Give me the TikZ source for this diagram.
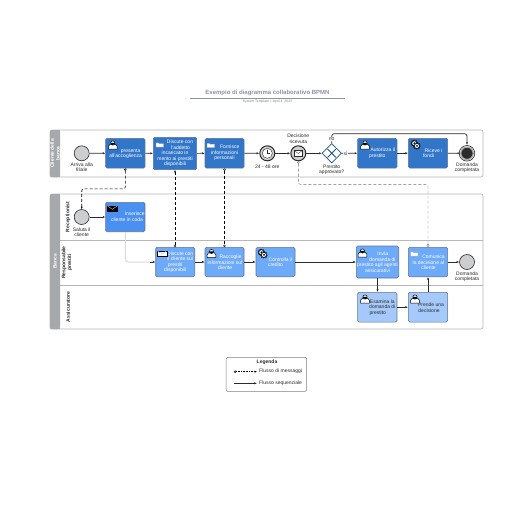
\documentclass[tikz,border=0pt]{standalone}
\usepackage{fontspec}
\setmainfont{Liberation Sans}
\usetikzlibrary{arrows.meta,calc,shapes.geometric}
\definecolor{tdark}{HTML}{3176C8}
\definecolor{tone}{HTML}{4A90F0}
\definecolor{tmid}{HTML}{6EAAFA}
\definecolor{tlight}{HTML}{A5C9FA}
\definecolor{bord}{HTML}{5F7590}
\definecolor{lineg}{HTML}{B8B8B8}
\definecolor{headg}{HTML}{A6A8AB}
\definecolor{evg}{HTML}{CDCED0}
\definecolor{inkc}{HTML}{2B2B2B}
\definecolor{titlec}{HTML}{8C93A3}
\tikzset{
 every node/.style={font=\fontsize{5}{5.5}\selectfont,text=inkc,align=center,inner sep=0pt},
 taskbox/.style={draw=bord,line width=.6pt,rounded corners=1.4pt},
 ev/.style={circle,draw=inkc,fill=evg,minimum size=15pt,line width=.6pt},
 seq/.style={draw=inkc,line width=.7pt,-{Latex[length=2.6pt,width=2.2pt]}},
 seqg/.style={draw=black!15,line width=1pt,rounded corners=3pt},
 cstart/.style={{Circle[open,fill=white,line width=.4pt,length=2.4pt,width=2.4pt]}-{Latex[open,fill=white,line width=.4pt,length=2.4pt,width=2.2pt]}},
 cboth/.style={{Circle[open,fill=white,line width=.4pt,length=2.4pt,width=2.4pt]}-{Circle[open,fill=white,line width=.4pt,length=2.4pt,width=2.4pt]}},
 cdiam/.style={{Circle[open,fill=white,line width=.4pt,length=2.4pt,width=2.4pt]}-{Diamond[open,fill=white,line width=.4pt,length=3.4pt,width=2.8pt]}},
 msg/.style={draw=black,line width=.6pt,densely dashed,rounded corners=2pt},
 msgg/.style={draw=black!55,line width=.4pt,densely dashed,rounded corners=2pt},
 lanebox/.style={draw=lineg,line width=.7pt},
 rot/.style={rotate=90,font=\fontsize{5}{5.8}\selectfont\bfseries},
 poolt/.style={rotate=90,font=\fontsize{4.9}{5.7}\selectfont\bfseries,text=white},
}
\newcommand{\tasknode}[9]{%
 \node[taskbox,fill=#6,minimum width=#4pt,minimum height=#5pt] (#1) at (#2,#3) {};
 \node[text=#7] (#1t) at ($(#1.center)+(#8,#9)$)}
\newcommand{\iconuser}[2]{%
 \begin{scope}[shift={(#1,#2)},scale=1.25]
 \fill[white,draw=black,line width=.5pt] (-3.5,3.2) -- (-3.5,1) .. controls (-3.5,-.6) and (-1.5,-.8) .. (0,-.8) .. controls (1.5,-.8) and (3.5,-.6) .. (3.5,1) -- (3.5,3.2) -- cycle;
 \fill[white,draw=black,line width=.5pt] (0,-1.6) circle (1.7);
 \fill[black] (-1.7,-1.8) arc (180:0:1.7) -- cycle;
 \end{scope}}
\newcommand{\iconfold}[2]{%
 \begin{scope}[shift={(#1,#2)}]
 \fill[white,draw=black!40,line width=.3pt] (-4,2.5) -- (-4,-1.6) -- (-1.5,-1.6) -- (-.8,-.8) -- (3.5,-.8) -- (3.5,2.5) -- cycle;
 \end{scope}}
\newcommand{\iconmail}[3]{%
 \begin{scope}[shift={(#1,#2)}]
 \fill[#3,draw=black,line width=.4pt] (-4.8,-2.8) rectangle (4.8,2.8);
 \draw[draw=white!50!gray,line width=.4pt] (-4.5,-2.5) -- (0,.6) -- (4.5,-2.5);
 \end{scope}}
\newcommand{\icongear}[2]{%
 \begin{scope}[shift={(#1,#2)}]
 \foreach \p in {(-1.2,-1.2),(1.4,1.4)}{
 \draw[draw=black,line width=1pt,dash pattern=on .9pt off .7pt] \p circle (3.1);
 \fill[white,draw=black,line width=.5pt] \p circle (2.5);
 \fill[black] \p circle (1);}
 \end{scope}}
\begin{document}
\begin{tikzpicture}[x=1pt,y=-1pt]
\useasboundingbox (0,0) rectangle (516,516);
\fill[white] (0,0) rectangle (516,516);
\node[font=\fontsize{6}{7}\selectfont\bfseries,text=titlec] (title) at (267.5,93) {Esempio di diagramma collaborativo BPMN};
\coordinate (tl) at (190,98.5); \coordinate (tr) at (345,98.5);
\draw[draw=titlec,line width=.6pt] (tl) -- (tr);
\node[font=\fontsize{3.4}{4}\selectfont,text=gray] (sub) at (267.5,101.8) {System Template \,|\, April 4, 2023};
% pools
\draw[lanebox,rounded corners=2pt] (50,130) rectangle (483,177);
\fill[headg,rounded corners=2pt] (50,130) rectangle (60,177);
\fill[headg] (56,130) rectangle (60,177);
\node[poolt] (p1) at (55,153.5) {Cliente della\\banca};
\draw[lanebox,rounded corners=2pt] (50,194) rectangle (483,329);
\fill[headg,rounded corners=2pt] (50,194) rectangle (60,329);
\fill[headg] (56,194) rectangle (60,329);
\node[poolt] (p2) at (55,261.5) {Banca};
\coordinate (l1a) at (60,240); \coordinate (l1b) at (483,240);
\coordinate (l2a) at (60,285); \coordinate (l2b) at (483,285);
\draw[lanebox] (l1a) -- (l1b); \draw[lanebox] (l2a) -- (l2b);
\node[rot] (r1) at (68,217) {Receptionist};
\node[rot] (r2) at (67,262.5) {Responsabile\\prestiti};
\node[rot] (r3) at (68,307) {Assicuratore};
% row 1
\node[ev] (s1) at (81.7,153.3) {};
\node (s1l) at (81.7,167.2) {Arriva alla\\filiale};
\tasknode{a1}{125.3}{153.2}{39.3}{29.7}{tdark}{white}{0.3}{.5}{\hspace*{10pt}presenta\\all'accoglienza};
\iconuser{112.8}{145}
\tasknode{a2}{175}{153.5}{43.3}{32.3}{tdark}{white}{0}{0}{\hspace*{10pt}Discute con\\\hspace*{11pt}l'addetto\\incaricato in\\merito ai prestiti\\disponibili};
\iconfold{160}{144.5}
\tasknode{a3}{224.5}{153.2}{39}{29.7}{tdark}{white}{0}{0}{\hspace*{10.5pt}Fornisce\\informazioni\\personali};
\iconfold{211}{145}
\node[ev,fill=white!45!headg,line width=1pt] (tim) at (267.3,153.3) {};
\draw[draw=inkc,fill=white,line width=.4pt] (tim) circle (5);
\draw[draw=inkc,line width=.5pt] (267.3,149.5) -- (267.3,153.3) -- (270,153.3);
\node (timl) at (267.3,167) {24 - 48 ore};
\node[ev,fill=white!45!headg,line width=1pt] (rcv) at (298.3,153.3) {};
\draw[draw=inkc,fill=white,line width=.3pt] (294,150.5) rectangle (302.5,156);
\draw[draw=inkc,line width=.3pt] (294,150.5) -- (298.3,153.5) -- (302.5,150.5);
\node (rcvl) at (298.3,138.5) {Decisione\\ricevuta};
\node[diamond,draw=tdark!70!black,fill=white,minimum width=19.5pt,minimum height=19.5pt,line width=.7pt] (gw) at (331.7,153.3) {};
\draw[draw=tdark!70!black,line width=.9pt] (327.5,149.1) -- (335.9,157.5) (327.5,157.5) -- (335.9,149.1);
\node (gwl) at (331.7,169.5) {Prestito\\approvato?};
\tasknode{a4}{377.3}{153.2}{39.3}{29.7}{tdark}{white}{0}{0}{\hspace*{11pt}Autorizza il\\prestito};
\iconuser{365}{145}
\tasknode{a5}{428}{153.2}{39.3}{29.7}{tdark}{white}{0.5}{0}{\hspace*{10pt}Riceve i\\fondi};
\icongear{415.5}{144.5}
\node[ev,fill=inkc,line width=1.3pt,draw=headg,minimum size=12.5pt] (e1) at (467,153.3) {};
\draw[draw=inkc,line width=.6pt] (e1) circle (7.8);
\node (e1l) at (467,167.8) {Domanda\\completata};
% lane 1
\node[ev] (s2) at (81.7,217) {};
\node (s2l) at (81.7,232) {Saluta il\\cliente};
\tasknode{b1}{125.3}{217}{39.3}{29.4}{tone}{white}{1.7}{-.3}{\hspace*{19pt}Inserisce il\\cliente in coda};
\iconmail{112.3}{208.7}{black}
% lane 2
\tasknode{c1}{175.2}{262}{39}{29.4}{tmid}{white}{0}{0}{\hspace*{10pt}Discute con\\\hspace*{10pt}il cliente sui\\prestiti\\disponibili};
\iconmail{162}{253.5}{white}
\tasknode{c2}{224.5}{262}{39}{29.4}{tmid}{white}{.5}{.3}{\hspace*{11pt}Raccoglie\\informazioni sul\\cliente};
\iconuser{211.5}{253.5}
\tasknode{c3}{275.5}{262}{39}{29.4}{tmid}{white}{0}{0}{\hspace*{10pt}Controlla il\\credito};
\icongear{262.5}{253.5}
\tasknode{c4}{377.5}{262}{42.4}{32}{tmid}{white}{0}{.4}{\hspace*{10.5pt}Invia\\\hspace*{10pt}domanda di\\prestito agli agenti\\assicurativi};
\iconuser{362.5}{253}
\tasknode{c5}{428}{262}{39.3}{29.4}{tmid}{white}{.5}{.3}{\hspace*{10pt}Comunica\\la decisione al\\cliente};
\iconfold{414.5}{253.5}
\node[ev] (e2) at (467,262) {};
\node (e2l) at (467,276.8) {Domanda\\completata};
% lane 3
\tasknode{d1}{377.3}{307.2}{39.3}{29.7}{tlight}{inkc}{5}{.5}{Esamina la\\domanda di\\prestito\hspace*{9pt}};
\iconuser{365}{299}
\tasknode{d2}{428}{307.2}{39.3}{29.7}{tlight}{inkc}{1}{.5}{\hspace*{4pt}Prende una\\decisione};
\iconuser{415}{299}
% sequence
\draw[seq] (s1) -- (a1);
\draw[seq] (a1) -- (a2);
\draw[seq] (a2) -- (a3);
\draw[seq] (a3) -- (tim);
\draw[seq] (tim) -- (rcv);
\draw[seq] (rcv) -- (gw);
\draw[seq] (gw) -- node[fill=white,inner sep=.6pt,pos=.25] (sil) {sì} (a4);
\draw[seq] (a4) -- (a5);
\draw[seq] (a5) -- (e1);
\draw[seq,rounded corners=2.5pt] (gw.north) |- node[fill=white,inner sep=.6pt,pos=.2] (nol) {no} ($(e1.north)+(0,-12.7)$) -- ($(e1.north)+(0,-1.5)$);
\draw[seq] (s2) -- (b1);
\draw[seqg] (b1.south) |- (c1.west);
\draw[seq] ($(c1.west)+(-5,0)$) -- (c1);
\draw[seq] (c1) -- (c2);
\draw[seq] (c2) -- (c3);
\draw[seq] (c3) -- (c4);
\draw[seq] (c4) -- (c4 |- d1.north);
\draw[seq] (d1) -- (d2);
\draw[seq] (d2) -- (c5);
\draw[seq] (c5) -- (e2);
% messages
\draw[msg,cstart] (a1.south) -- ++(0,20.5) -| (s2.north);
\draw[msg,cstart] (a2 |- c1.north) -- (a2.south);
\draw[msg,cboth] (a3.south) -- (c2.north);
\draw[msgg,cdiam] (rcv.south) -- ++(0,23) -| (c5.north);
% legend
\draw[draw=black!50,line width=.5pt,rounded corners=1.5pt] (226,357.3) rectangle (306.7,391.3);
\node[font=\fontsize{5}{5.5}\selectfont\bfseries] (lg) at (267,362.7) {Legenda};
\coordinate (m1) at (234,371.7); \coordinate (m2) at (257,371.7);
\coordinate (q1) at (234,383.3); \coordinate (q2) at (257,383.3);
\draw[draw=black,line width=.6pt,densely dotted,cstart] (m1) -- (m2);
\draw[seq] (q1) -- (q2);
\node[anchor=west] (lm) at (259,371.7) {Flusso di messaggi};
\node[anchor=west] (lq) at (259,383.3) {Flusso sequenziale};
\end{tikzpicture}
\end{document}
